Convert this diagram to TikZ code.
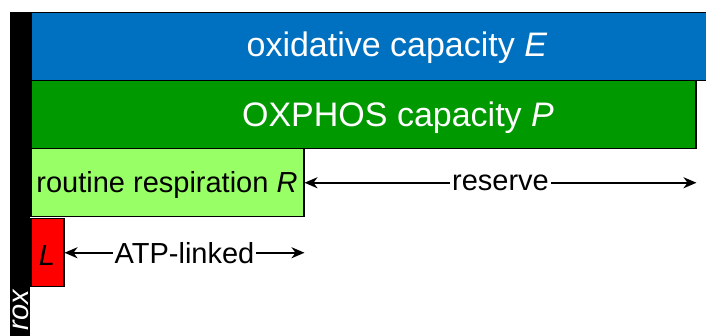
\documentclass[tikz,border=0pt]{standalone}
\usepackage{fontspec}
\setmainfont{Liberation Sans}
\usetikzlibrary{arrows.meta}
\definecolor{oxblue}{HTML}{0070C0}
\definecolor{oxgreen}{HTML}{009900}
\definecolor{routgreen}{HTML}{99FF66}
\tikzset{
  bar/.style={draw=black,line width=1.5pt,inner sep=0pt,anchor=north west,minimum height=68pt},
  bigtext/.style={font=\fontsize{34}{40}\selectfont,anchor=base},
  smalltext/.style={font=\fontsize{29}{34}\selectfont},
  span/.style={line width=2pt,{Stealth[length=13pt,width=11pt,inset=4pt]}-{Stealth[length=13pt,width=11pt,inset=4pt]}}
}
\begin{document}
\begin{tikzpicture}[x=1pt,y=-1pt]
\useasboundingbox (0,0) rectangle (706,336);
\fill[black] (10,12) rectangle (30,340);
%%%% capacities
\node[bar,fill=oxblue,minimum width=690pt] (E) at (30,12) {};
\node[bar,fill=oxgreen,minimum width=665pt] (P) at (30,80) {};
\node[bar,fill=routgreen,minimum width=273pt] (R) at (30,148) {};
\node[bar,fill=red,minimum width=33pt] (L) at (30,218) {};
\node[bigtext,text=white] (Elabel) at (397,57) {oxidative capacity \textit{E}};
\node[bigtext,text=white] (Plabel) at (398,127) {OXPHOS capacity \textit{P}};
\node[smalltext,anchor=base] (Rlabel) at (167,193) {routine respiration \textit{R}};
\node[smalltext,anchor=base] (Llabel) at (47,266) {\textit{L}};
\node[font=\fontsize{29}{34}\selectfont\itshape,text=white,rotate=90,anchor=base east,inner sep=0pt] (rox) at (28,290) {rox};
%%%% differences
\draw[span] (R.east) -- node[smalltext,fill=white,inner sep=2pt] (reserve) {reserve} (P.south east |- R.east);
\draw[span] (L.east) -- node[smalltext,fill=white,inner sep=2pt] (atp) {ATP-linked} (R.south east |- L.east);
\end{tikzpicture}
\end{document}
